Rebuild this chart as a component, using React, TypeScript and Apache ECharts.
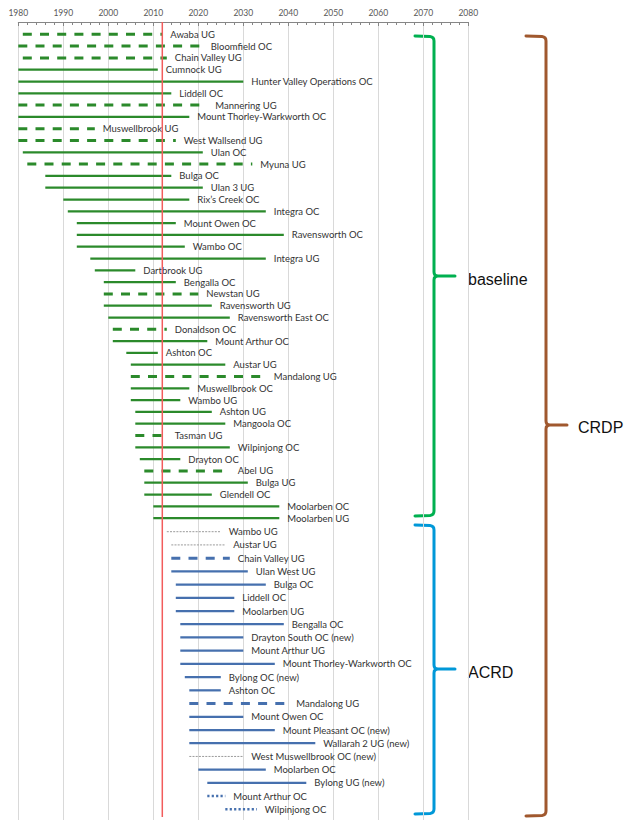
import React, { useEffect, useRef } from "react";
import * as echarts from "echarts";

// ---------- axis ----------
const X_MIN = 1980;
const X_MAX = 2080;
const X_INTERVAL = 10;
const CURRENT_YEAR = 2012;

// ---------- baseline mines ----------
const baselineNames = [
  "Awaba UG", "Bloomfield OC", "Chain Valley UG", "Cumnock UG", "Hunter Valley Operations OC",
  "Liddell OC", "Mannering UG", "Mount Thorley-Warkworth OC", "Muswellbrook UG", "West Wallsend UG",
  "Ulan OC", "Myuna UG", "Bulga OC", "Ulan 3 UG", "Rix\u2019s Creek OC",
  "Integra OC", "Mount Owen OC", "Ravensworth OC", "Wambo OC", "Integra UG",
  "Dartbrook UG", "Bengalla OC", "Newstan UG", "Ravensworth UG", "Ravensworth East OC",
  "Donaldson OC", "Mount Arthur OC", "Ashton OC", "Austar UG", "Mandalong UG",
  "Muswellbrook OC", "Wambo UG", "Ashton UG", "Mangoola OC", "Tasman UG",
  "Wilpinjong OC", "Drayton OC", "Abel UG", "Bulga UG", "Glendell OC",
  "Moolarben OC", "Moolarben UG",
];
const baselineStart = [
  1981, 1980, 1981, 1980, 1980,
  1980, 1980, 1980, 1980, 1980,
  1981, 1982, 1986, 1986, 1990,
  1991, 1993, 1993, 1993, 1996,
  1997, 1999, 1999, 1999, 2000,
  2001, 2001, 2004, 2005, 2005,
  2005, 2005, 2006, 2006, 2006,
  2006, 2007, 2008, 2008, 2008,
  2010, 2010,
];
const baselineEnd = [
  2012, 2021, 2013, 2011, 2030,
  2014, 2022, 2018, 1997, 2015,
  2021, 2032, 2014, 2021, 2018,
  2035, 2015, 2039, 2017, 2035,
  2006, 2015, 2020, 2023, 2027,
  2013, 2022, 2011, 2026, 2035,
  2018, 2016, 2023, 2026, 2013,
  2027, 2016, 2027, 2031, 2023,
  2038, 2038,
];
const baselineStyle = [
  "gdash", "gdash", "gdash", "gsolid", "gsolid",
  "gsolid", "gdash", "gsolid", "gdash", "gdash",
  "gsolid", "gdash", "gsolid", "gsolid", "gsolid",
  "gsolid", "gsolid", "gsolid", "gsolid", "gsolid",
  "gsolid", "gsolid", "gdash", "gsolid", "gsolid",
  "gdash", "gsolid", "gsolid", "gsolid", "gdash",
  "gsolid", "gsolid", "gsolid", "gsolid", "gdash",
  "gsolid", "gsolid", "gdash", "gsolid", "gsolid",
  "gsolid", "gsolid",
];

// ---------- ACRD mines ----------
const acrdNames = [
  "Wambo UG", "Austar UG", "Chain Valley UG", "Ulan West UG", "Bulga OC",
  "Liddell OC", "Moolarben UG", "Bengalla OC", "Drayton South OC (new)", "Mount Arthur UG",
  "Mount Thorley-Warkworth OC", "Bylong OC (new)", "Ashton OC", "Mandalong UG", "Mount Owen OC",
  "Mount Pleasant OC (new)", "Wallarah 2 UG (new)", "West Muswellbrook OC (new)", "Moolarben OC", "Bylong UG (new)",
  "Mount Arthur OC", "Wilpinjong OC",
];
const acrdStart = [
  2013, 2014, 2014, 2014, 2015,
  2015, 2015, 2016, 2016, 2016,
  2016, 2017, 2018, 2018, 2018,
  2018, 2018, 2018, 2020, 2022,
  2022, 2026,
];
const acrdEnd = [
  2025, 2026, 2027, 2031, 2035,
  2028, 2028, 2039, 2030, 2030,
  2037, 2025, 2025, 2040, 2030,
  2037, 2046, 2030, 2035, 2044,
  2026, 2033,
];
const acrdStyle = [
  "grey", "grey", "bdash", "bsolid", "bsolid",
  "bsolid", "bsolid", "bsolid", "bsolid", "bsolid",
  "bsolid", "bsolid", "bsolid", "bdash", "bsolid",
  "bsolid", "bsolid", "grey", "bsolid", "bsolid",
  "bdot", "bdot",
];

const braceLabels = ["baseline", "ACRD", "CRDP"];

// ---------- layout / styles ----------
const W = 638;
const H = 831;
const GRID_LEFT = 18.3;
const GRID_RIGHT = W - 468.3;
const GRID_TOP = 22;
const GRID_BOTTOM_PX = 820;
const RED_BOTTOM_PX = 817;
const ROW0_A = 34.3;
const STEP_A = 11.8;
const ROW0_B = 531.7;
const STEP_B = 13.22;
const LABEL_GAP = 8;

const GREEN = "#2B8A2B";
const BLUE = "#4670AE";

const LINE_STYLES: Record<string, any> = {
  gsolid: { color: GREEN, width: 2.25, dash: null },
  gdash: { color: GREEN, width: 3, dash: [9, 8.2] },
  bsolid: { color: BLUE, width: 2.25, dash: null },
  bdash: { color: BLUE, width: 3, dash: [9, 8.2] },
  grey: { color: "#9A9A9A", width: 1, dash: [2, 1.2] },
  bdot: { color: BLUE, width: 2.5, dash: [2.2, 2.2] },
};

function bracePath(x0: number, xv: number, xt: number, y0: number, ym: number, y1: number, r: number) {
  return (
    `M${x0},${y0} L${xv - r},${y0 + 0.5} Q${xv},${y0 + 1} ${xv},${y0 + r + 1} ` +
    `L${xv},${ym - r} Q${xv},${ym} ${xv + r},${ym} L${xt},${ym} ` +
    `M${xv + r},${ym} Q${xv},${ym} ${xv},${ym + r} ` +
    `L${xv},${y1 - r - 1} Q${xv},${y1 - 1} ${xv - r},${y1 - 0.5} L${x0},${y1}`
  );
}

function registerBraces() {
  echarts.graphic.registerShape(
    "braceGreen",
    echarts.graphic.extendPath(bracePath(415, 434, 455, 36, 276, 516, 4), {}) as any
  );
  echarts.graphic.registerShape(
    "braceBlue",
    echarts.graphic.extendPath(bracePath(415, 434, 455, 525, 669, 814, 4), {}) as any
  );
  echarts.graphic.registerShape(
    "braceBrown",
    echarts.graphic.extendPath(bracePath(526, 546, 567, 36, 425, 816, 4), {}) as any
  );
}

function makeRenderItem(names: string[], styles: string[]) {
  return (params: any, api: any) => {
    const i = params.dataIndex;
    const a = api.coord([api.value(0), api.value(2)]);
    const b = api.coord([api.value(1), api.value(2)]);
    const st = LINE_STYLES[styles[i]];
    const lineStyle: any = { stroke: st.color, lineWidth: st.width, lineCap: "butt" };
    if (st.dash) lineStyle.lineDash = st.dash;
    return {
      type: "group",
      children: [
        { type: "line", shape: { x1: a[0], y1: a[1], x2: b[0], y2: b[1] }, style: lineStyle },
        {
          type: "text",
          x: b[0] + LABEL_GAP,
          y: b[1],
          style: {
            text: names[i],
            fill: "#333333",
            fontSize: 9.5,
            fontFamily: "Lato",
            verticalAlign: "middle",
            align: "left",
          },
        },
      ],
    };
  };
}

export default function App() {
  const ref = useRef<HTMLDivElement>(null);

  useEffect(() => {
    if (!ref.current) return;
    registerBraces();
    const chart = echarts.init(ref.current, undefined, { renderer: "svg" });

    const yMinA = -(ROW0_A - GRID_TOP) / STEP_A;
    const yMaxA = (GRID_BOTTOM_PX - ROW0_A) / STEP_A;
    const yRedEnd = (RED_BOTTOM_PX - ROW0_A) / STEP_A;
    const yMinB = -(ROW0_B - GRID_TOP) / STEP_B;
    const yMaxB = (GRID_BOTTOM_PX - ROW0_B) / STEP_B;

    const gridBox = {
      left: GRID_LEFT,
      right: GRID_RIGHT,
      top: GRID_TOP,
      bottom: H - GRID_BOTTOM_PX,
      containLabel: false,
    };

    const option: any = {
      animation: false,
      backgroundColor: "#ffffff",
      grid: [gridBox, { ...gridBox }],
      xAxis: [
        {
          gridIndex: 0,
          type: "value",
          position: "top",
          min: X_MIN,
          max: X_MAX,
          interval: X_INTERVAL,
          axisLine: { show: true, onZero: false, lineStyle: { color: "#868686", width: 1 } },
          axisTick: { show: true, inside: true, length: 4, lineStyle: { color: "#868686" } },
          minorTick: { show: true, splitNumber: 5, length: 3, lineStyle: { color: "#868686" } },
          axisLabel: {
            fontSize: 8.5,
            color: "#595959",
            margin: 5,
            fontFamily: "Lato",
            formatter: (v: number) => String(v),
          },
          splitLine: { show: true, lineStyle: { color: "#D9D9D9", width: 1 } },
        },
        {
          gridIndex: 1,
          type: "value",
          min: X_MIN,
          max: X_MAX,
          interval: X_INTERVAL,
          show: false,
          axisLine: { onZero: false },
          splitLine: { show: false },
        },
      ],
      yAxis: [
        { gridIndex: 0, type: "value", inverse: true, min: yMinA, max: yMaxA, show: false, splitLine: { show: false } },
        { gridIndex: 1, type: "value", inverse: true, min: yMinB, max: yMaxB, show: false, splitLine: { show: false } },
      ],
      series: [
        {
          type: "line",
          xAxisIndex: 0,
          yAxisIndex: 0,
          data: [
            [CURRENT_YEAR, yMinA],
            [CURRENT_YEAR, yRedEnd],
          ],
          symbol: "none",
          silent: true,
          lineStyle: { color: "#F25C5C", width: 1.5 },
          z: 5,
        },
        {
          type: "custom",
          name: "baseline",
          xAxisIndex: 0,
          yAxisIndex: 0,
          data: baselineNames.map((n, i) => ({ name: n, value: [baselineStart[i], baselineEnd[i], i] })),
          encode: { x: [0, 1], y: 2 },
          renderItem: makeRenderItem(baselineNames, baselineStyle),
          z: 3,
        },
        {
          type: "custom",
          name: "ACRD",
          xAxisIndex: 1,
          yAxisIndex: 1,
          data: acrdNames.map((n, i) => ({ name: n, value: [acrdStart[i], acrdEnd[i], i] })),
          encode: { x: [0, 1], y: 2 },
          renderItem: makeRenderItem(acrdNames, acrdStyle),
          z: 3,
        },
      ],
      graphic: [
        { type: "braceGreen", x: 0, y: 0, style: { stroke: "#00B050", lineWidth: 3, fill: "none", lineCap: "round", lineJoin: "round" } },
        { type: "braceBlue", x: 0, y: 0, style: { stroke: "#0098D8", lineWidth: 3, fill: "none", lineCap: "round", lineJoin: "round" } },
        { type: "braceBrown", x: 0, y: 0, style: { stroke: "#A0582E", lineWidth: 3, fill: "none", lineCap: "round", lineJoin: "round" } },
        {
          type: "text",
          x: 468,
          y: 279,
          style: { text: braceLabels[0], fill: "#111111", fontSize: 16, fontFamily: "Liberation Sans", verticalAlign: "middle" },
        },
        {
          type: "text",
          x: 468,
          y: 672,
          style: { text: braceLabels[1], fill: "#111111", fontSize: 16, fontFamily: "Liberation Sans", verticalAlign: "middle" },
        },
        {
          type: "text",
          x: 578,
          y: 427,
          style: { text: braceLabels[2], fill: "#111111", fontSize: 16, fontFamily: "Liberation Sans", verticalAlign: "middle" },
        },
      ],
    };

    chart.setOption(option);
    return () => chart.dispose();
  }, []);

  return (
    <div
      ref={ref}
      style={{ position: "absolute", left: 0, top: 0, width: W, height: H, background: "#ffffff" }}
    />
  );
}
